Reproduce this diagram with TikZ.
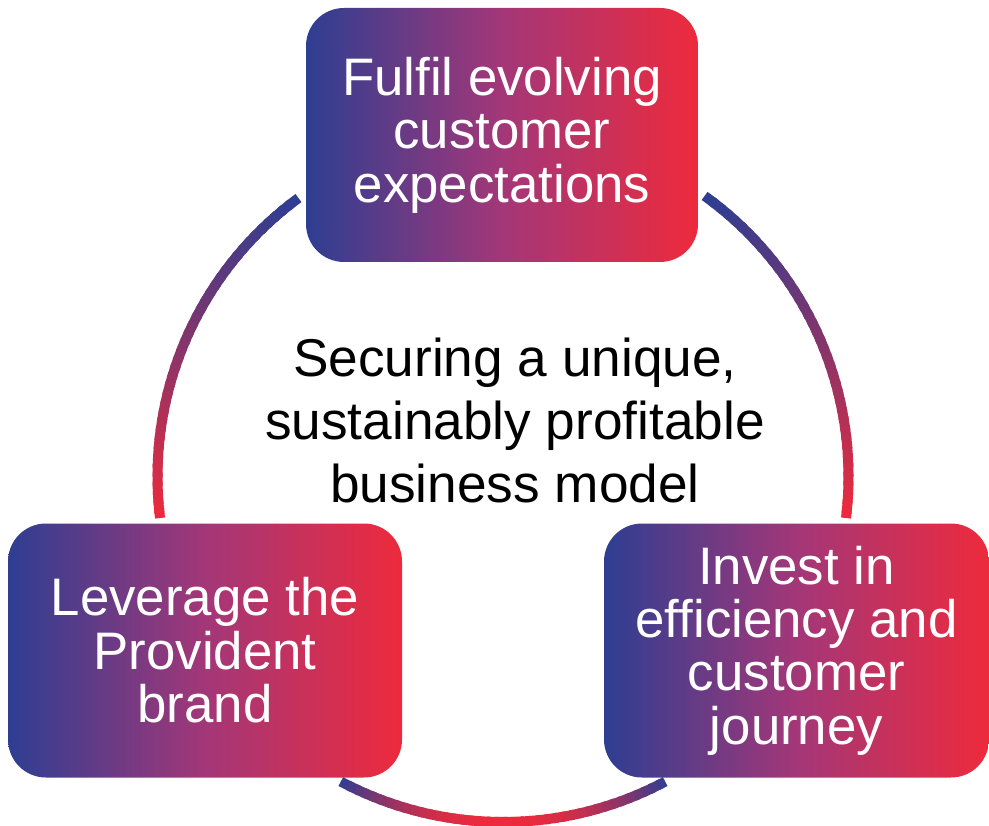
\documentclass[tikz,border=0pt]{standalone}
\usepackage{fontspec}
\setmainfont{Liberation Sans}
\definecolor{pvblue}{RGB}{46,62,146}
\definecolor{pvmid}{RGB}{163,55,120}
\definecolor{pvred}{RGB}{238,42,60}
\tikzset{
  goal/.style={rounded corners=19pt, left color=pvblue, right color=pvred, middle color=pvmid,
    text=white, align=center, inner sep=0pt, minimum height=127pt,
    font=\fontsize{26.4}{26.7}\selectfont},
  ring/.style={line width=5pt, line cap=butt},
}
\begin{document}
\begin{tikzpicture}[x=.5pt, y=.5pt]
%Khung hình
\useasboundingbox (0,0) rectangle (989,825);
%Tâm và bán kính vòng tròn
\def\R{345.5} \def\n{40}
\coordinate (O) at (503,348.5);
%Vòng tròn tô màu từng đoạn
\foreach \s/\e/\t/\u in {126.3/186.9/0.806/-0.120, 54.3/-6.9/0.812/-0.120, 242/298/-0.883/-1}{
  \foreach \i in {1,...,\n}{
    \pgfmathsetmacro\ai{\s+(\e-\s)*(\i-1)/\n}
    \pgfmathsetmacro\bi{\s+(\e-\s)*min(\i+.5,\n)/\n}
    \pgfmathsetmacro\p{round(100*(\t-sin(\s+(\e-\s)*(\i-.5)/\n))/(\t-\u))}
    \pgfmathsetmacro\p{max(0,min(100,\p))}
    \draw[ring, color=pvred!\p!pvblue] (O) ++(\ai:\R) arc[start angle=\ai, end angle=\bi, radius=\R*.5pt];
  }
}
%Các ô
\node[goal, minimum width=196pt] (expect) at (502,690) {Fulfil evolving\\customer\\expectations};
\node[goal, minimum width=197pt] (brand) at (205,174.5) {Leverage the\\Provident\\brand};
\node[goal, minimum width=192.5pt] (invest) at (796.5,174.5) {Invest in\\efficiency and\\customer\\journey};
%Chữ ở giữa
\node[align=center, font=\fontsize{26.6}{31.5}\selectfont] (core) at (515,405) {Securing a unique,\\sustainably profitable\\business model};
\end{tikzpicture}
\end{document}
